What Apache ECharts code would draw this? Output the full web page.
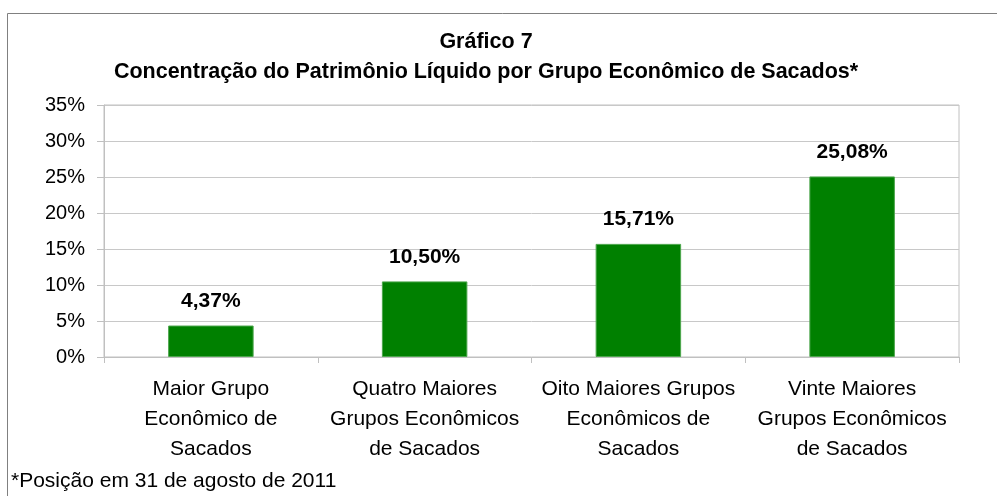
<!DOCTYPE html>
<html>
<head>
<meta charset="utf-8">
<title>Gráfico 7</title>
<script src="https://cdn.jsdelivr.net/npm/echarts@6/dist/echarts.min.js"></script>
<style>
    html, body { margin: 0; padding: 0; background: #fff; }
    #chart1 { width: 997px; height: 496px; }
</style>
</head>
<body>
<div id="chart1"></div>
<script>
// categorias (eixo x)
var categories = [
    'Maior Grupo\nEconômico de\nSacados',
    'Quatro Maiores\nGrupos Econômicos\nde Sacados',
    'Oito Maiores Grupos\nEconômicos de\nSacados',
    'Vinte Maiores\nGrupos Econômicos\nde Sacados'
];
// % do PL
var values = [4.37, 10.50, 15.71, 25.08];
// eixo y
var yMin = 0;
var yMax = 35;
var yStep = 5;

var titleText = 'Gráfico 7\nConcentração do Patrimônio Líquido por Grupo Econômico de Sacados*';
var footText = '*Posição em 31 de agosto de 2011';

var myChart = {
    init: function () {
        var font = "'Liberation Sans', Arial, sans-serif";
        var option = {
            animation: false,
            textStyle: { fontFamily: font },
            title: {
                text: titleText,
                left: 486,
                top: 27,
                textAlign: 'center',
                padding: 0,
                textStyle: {
                    fontFamily: font,
                    fontSize: 21.5,
                    fontWeight: 'bold',
                    color: '#000',
                    lineHeight: 30
                }
            },
            graphic: [
                {
                    type: 'rect',
                    shape: { x: 7.5, y: 13.5, width: 1000, height: 500 },
                    style: { fill: 'none', stroke: '#808080', lineWidth: 1 },
                    silent: true
                },
                {
                    type: 'text',
                    left: 11,
                    top: 471,
                    style: {
                        text: footText,
                        fontFamily: font,
                        fontSize: 21,
                        fill: '#000'
                    }
                }
            ],
            grid: {
                left: 104,
                right: 38,
                top: 105,
                bottom: 139,
                show: true,
                borderColor: '#c0c0c0',
                borderWidth: 1
            },
            xAxis: {
                type: 'category',
                data: categories,
                axisLine: { lineStyle: { color: '#c0c0c0' } },
                axisTick: { show: true, length: 6, lineStyle: { color: '#c0c0c0' } },
                axisLabel: {
                    color: '#000',
                    fontSize: 21,
                    lineHeight: 30,
                    margin: 17,
                    interval: 0
                }
            },
            yAxis: {
                type: 'value',
                min: yMin,
                max: yMax,
                interval: yStep,
                axisLine: { show: true, lineStyle: { color: '#c0c0c0' } },
                axisTick: { show: true, length: 7, lineStyle: { color: '#c0c0c0' } },
                axisLabel: {
                    color: '#000',
                    fontSize: 20,
                    margin: 19,
                    formatter: '{value}%'
                },
                splitLine: { lineStyle: { color: '#c8c8c8' } }
            },
            series: [
                {
                    type: 'bar',
                    data: values,
                    barWidth: '40%',
                    itemStyle: {
                        color: '#008000',
                        borderColor: '#4ca64c',
                        borderWidth: 1
                    },
                    label: {
                        show: true,
                        position: 'top',
                        distance: 14,
                        color: '#000',
                        fontSize: 21,
                        fontWeight: 'bold',
                        formatter: function (p) {
                            return p.value.toFixed(2).replace('.', ',') + '%';
                        }
                    }
                }
            ]
        };
        var chart = echarts.init(document.getElementById('chart1'));
        chart.setOption(option);
        return chart;
    }
};

var chartObj = myChart.init();
</script>
</body>
</html>
